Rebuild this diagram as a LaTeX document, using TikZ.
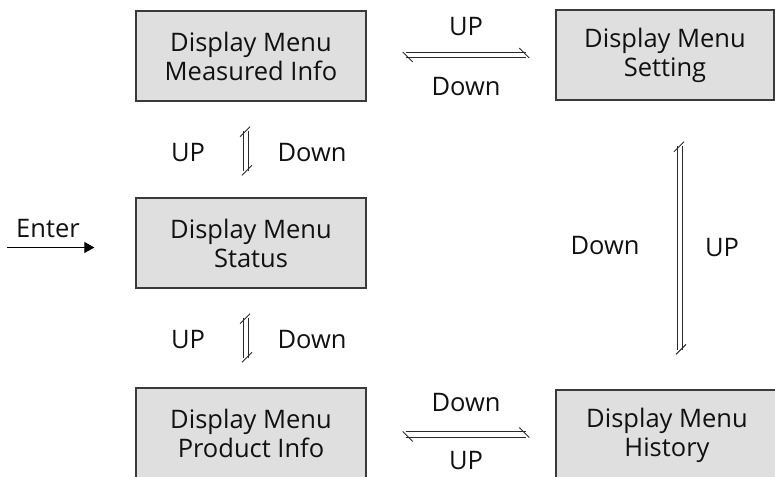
\documentclass[tikz,border=0pt]{standalone}
\usepackage{fontspec}
\setmainfont{Open Sans}
\usetikzlibrary{arrows.meta,calc}
\definecolor{boxfill}{HTML}{DFDFDF}
\definecolor{boxline}{HTML}{3A3A3A}
\definecolor{arrline}{HTML}{2A2A2A}
\definecolor{txt}{HTML}{111111}
\newcommand\hdouble[2]{%
  \draw[harp] ($(#1)+(0,-2.75)$) -- ($(#2)+(0,-2.75)$);
  \draw[harp] ($(#1)+(0,2.75)$) -- ($(#2)+(0,2.75)$);
  \draw[harp] ($(#1)+(-3,-3)$) -- ($(#1)+(7,7)$);
  \draw[harp] ($(#2)+(-7,-7)$) -- ($(#2)+(3,3)$);
}
\newcommand\vdouble[2]{%
  \draw[harp] ($(#1)+(-2.75,0)$) -- ($(#2)+(-2.75,0)$);
  \draw[harp] ($(#1)+(2.75,0)$) -- ($(#2)+(2.75,0)$);
  \draw[harp] ($(#1)+(-6,6)$) -- ($(#1)+(4,-4)$);
  \draw[harp] ($(#2)+(-4,4)$) -- ($(#2)+(6,-6)$);
}
\begin{document}
\begin{tikzpicture}[x=1pt,y=-1pt,
  menubox/.style={draw=boxline, fill=boxfill, line width=1.3pt, minimum width=230pt, minimum height=90pt, align=center, text=txt, font=\fontsize{25.5}{29}\selectfont, inner sep=0pt},
  lbl/.style={font=\fontsize{25.5}{29}\selectfont, text=txt, inner sep=0pt},
  harp/.style={draw=arrline, line width=0.9pt}]
\clip (0,0) rectangle (775,476);
\node[menubox] (mi) at (251,56) {Display Menu\\Measured Info};
\node[menubox, minimum width=218pt] (se) at (665,55) {Display Menu\\Setting};
\node[menubox] (st) at (251,243) {Display Menu\\Status};
\node[menubox] (pi) at (251,433) {Display Menu\\Product Info};
\node[menubox, minimum width=222pt] (hi) at (667,435) {Display Menu\\History};
% connector end points
\coordinate (t1) at ($(mi.east)+(39,-1)$);
\coordinate (t2) at ($(se.west)+(-29,0)$);
\coordinate (b1) at ($(pi.east)+(39,1.5)$);
\coordinate (b2) at ($(hi.west)+(-29,-0.5)$);
\coordinate (v1a) at ($(mi.south)+(-5,29)$);
\coordinate (v1b) at ($(st.north)+(-5,-26)$);
\coordinate (v2a) at ($(st.south)+(-5,29)$);
\coordinate (v2b) at ($(pi.north)+(-5,-29)$);
\coordinate (v3a) at ($(se.south)+(15,45)$);
\coordinate (v3b) at ($(hi.north)+(13,-39)$);
\hdouble{t1}{t2}
\hdouble{b1}{b2}
\vdouble{v1a}{v1b}
\vdouble{v2a}{v2b}
\vdouble{v3a}{v3b}
% labels
\node[lbl] (l1) at (466,27) {UP};
\node[lbl] (l2) at (466,87) {Down};
\node[lbl] (l3) at (466,403) {Down};
\node[lbl] (l4) at (466,461) {UP};
\node[lbl] (l5) at (188,153) {UP};
\node[lbl] (l6) at (312,153) {Down};
\node[lbl] (l7) at (188,340) {UP};
\node[lbl] (l8) at (312,340) {Down};
\node[lbl] (l9) at (605,246) {Down};
\node[lbl] (l10) at (722,248) {UP};
\node[lbl] (enter) at (48,229) {Enter};
\coordinate (e0) at (7,247.5);
\coordinate (e1) at ($(st.west)+(-41,4.5)$);
\draw[line width=1pt, -{Triangle[length=10pt,width=11pt]}] (e0) -- (e1);
\end{tikzpicture}
\end{document}
